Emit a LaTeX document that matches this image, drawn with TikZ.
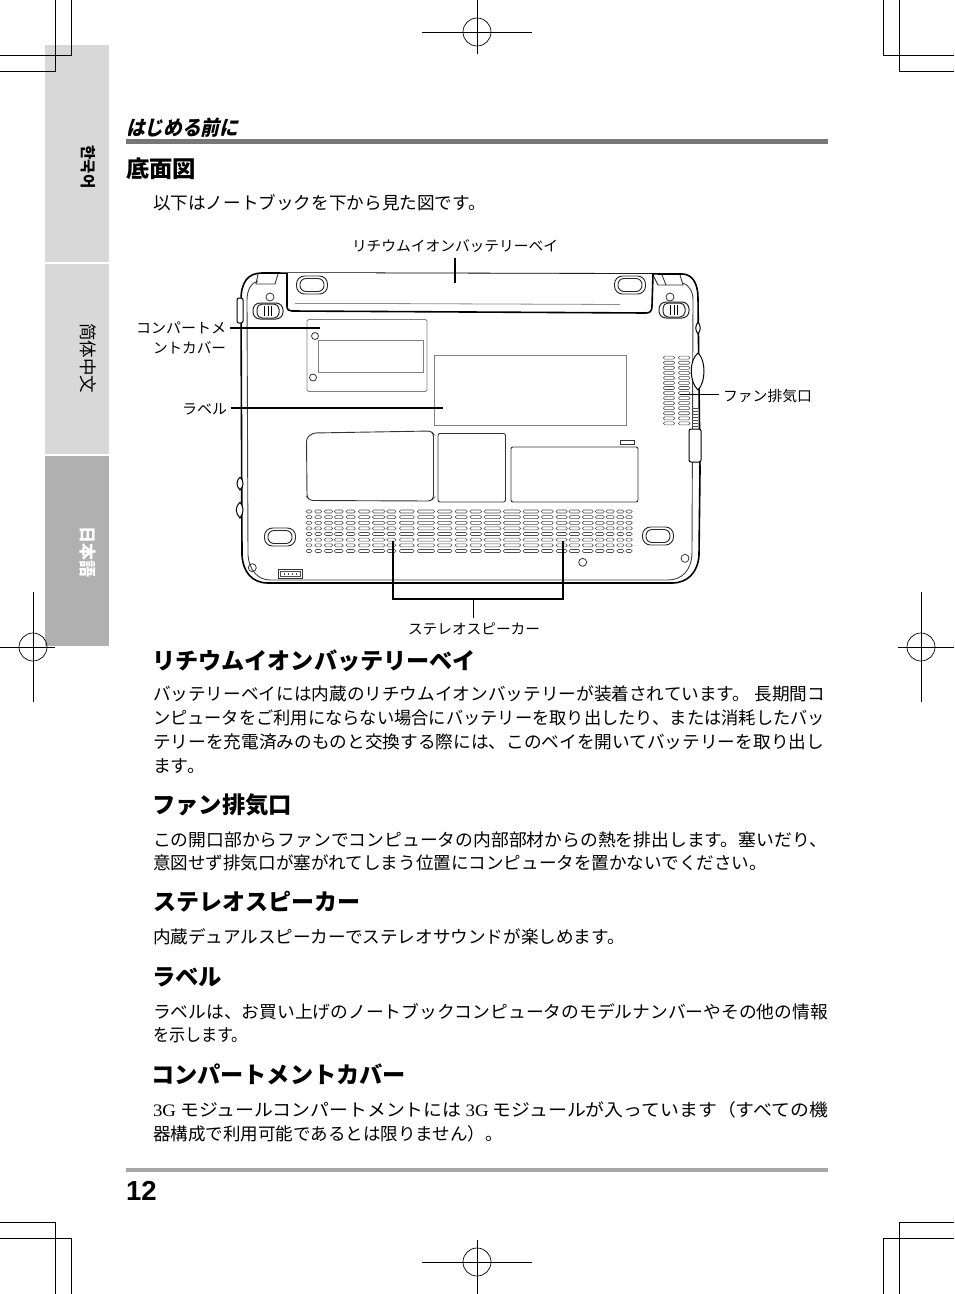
\documentclass[tikz,border=0pt]{standalone}
\usepackage{fontspec}
\usepackage{graphicx}
\setmainfont{Liberation Serif}
\newfontfamily\jpf{Noto Sans CJK JP}
\newfontfamily\jpsl[BoldFeatures={FakeSlant=0.25}]{Noto Sans CJK JP}
\newfontfamily\krf{Noto Sans CJK KR}
\newfontfamily\zhf{Noto Sans CJK SC}
\newfontfamily\numf{Liberation Sans}
\definecolor{tablight}{HTML}{D8D8D8}
\definecolor{tabdark}{HTML}{B0B0B0}
\definecolor{barA}{HTML}{777777}
\definecolor{barB}{HTML}{A8A8A8}
\definecolor{cvr}{HTML}{808080}
\tikzset{
  txt/.style={inner sep=0pt,outer sep=0pt,anchor=base west},
  crop/.style={line width=1pt,black},
  regm/.style={line width=0.8pt,black},
  outl/.style={line width=1.6pt,black,line join=round},
  sidep/.style={line width=1pt,black,fill=white},
  inl/.style={line width=0.9pt,black!75},
  thin part/.style={line width=0.9pt,black!80},
  cvrline/.style={line width=0.9pt,cvr},
  callout/.style={line width=1.7pt,black},
  vent/.style={line width=0.55pt,black!70,rounded corners=1.5pt},
}
% name, x, baseline y, width, size, font, text
\newcommand\fitt[7]{\node[txt] (#1) at (#2,#3) {\resizebox{#4pt}{\height}{\fontsize{#5}{#5}\selectfont#6#7}};}
\newcommand\bodyl[5]{\fitt{#1}{#2}{#3}{#4}{17.5}{\jpf}{#5}}
\newcommand\headl[5]{\fitt{#1}{#2}{#3}{#4}{23}{\jpf\bfseries}{#5}}
\newcommand\labl[5]{\fitt{#1}{#2}{#3}{#4}{14.5}{\jpf}{#5}}
\begin{document}
\begin{tikzpicture}[x=1pt,y=-1pt]
\useasboundingbox (0,0) rectangle (954,1294);
% tabs
\fill[tablight] (45,45) rectangle (109,262);
\fill[tablight] (45,264) rectangle (109,454);
\fill[tabdark] (45,456) rectangle (109,646);
\node[rotate=-90,inner sep=0pt,font={\fontsize{15.5}{16}\selectfont\krf\bfseries}] (tabk) at (88,167) {한국어};
\node[rotate=-90,inner sep=0pt,font={\fontsize{17.5}{18}\selectfont\zhf}] (tabc) at (88,358) {简体中文};
\node[rotate=-90,inner sep=0pt,text=white,font={\fontsize{17}{18}\selectfont\jpf\bfseries}] (tabj) at (88,552) {日本語};
% crop marks
\draw[crop] (55,0)--(55,71)--(0,71);
\draw[crop] (71,0)--(71,55)--(0,55);
\draw[crop] (883,0)--(883,55)--(954,55);
\draw[crop] (899,0)--(899,71)--(954,71);
\draw[crop] (55,1294)--(55,1222)--(0,1222);
\draw[crop] (71,1294)--(71,1238)--(0,1238);
\draw[crop] (883,1294)--(883,1238)--(954,1238);
\draw[crop] (899,1294)--(899,1222)--(954,1222);
% registration marks
\foreach \cx/\cy/\a/\b/\c/\d in {477/32/422/532/0/54, 477/1262/422/532/1240/1294, 33/647/0/55/592/702, 921/647/898/954/592/702}{
  \draw[regm] (\a,\cy)--(\b,\cy);
  \draw[regm] (\cx,\c)--(\cx,\d);
  \draw[line width=.7pt] (\cx,\cy) circle[radius=14];
}
% header
\node[txt] (hdr) at (126,135) {\resizebox{112pt}{\height}{\fontsize{20.5}{21}\selectfont\jpsl\bfseries はじめる前に}};
\fill[barA] (126,139) rectangle (828,144);
\headl{ttl}{126}{177}{70}{底面図}
\bodyl{intro}{153}{209}{333}{以下はノートブックを下から見た図です。}
% laptop outline
\draw[outl] (241,300) .. controls (241,282) and (248,273) .. (262,273) -- (682,274)
  .. controls (692,274) and (698,283) .. (698,298) -- (700,470) -- (699,555)
  .. controls (698,572) and (688,583) .. (672,583) -- (268,583)
  .. controls (252,583) and (243,572) .. (242,555) -- cycle;
\draw[inl] (258,281) .. controls (251,283) and (247,290) .. (247,300) -- (248,555)
  .. controls (249,570) and (258,580) .. (270,580) -- (668,580)
  .. controls (682,580) and (692,570) .. (692,552) -- (693,300)
  .. controls (693,292) and (690,286) .. (683,283);
% notches
\draw[thin part] (258,274)--(256,284)--(275,284)--(278,274);
\draw[thin part] (653,275)--(658,285)--(683,285)--(680,275);
\draw[thin part] (662,275)--(666,285);
% side parts
\draw[sidep,rounded corners=2pt] (237,298) rectangle (243,323);
\draw[sidep] (698,322) .. controls (695,326) and (695,330) .. (698,334) .. controls (701,330) and (701,326) .. (698,322);
\draw[sidep] (698,353) .. controls (689,360) and (689,382) .. (698,390) .. controls (706,382) and (706,360) .. (698,353);
\draw[sidep,rounded corners=2pt] (689,429) rectangle (701,462);
\draw[sidep] (240,477) .. controls (236,481) and (236,486) .. (240,490) .. controls (244,486) and (244,481) .. (240,477);
\draw[sidep] (240,502) .. controls (235,507) and (235,513) .. (240,518) .. controls (244,513) and (244,507) .. (240,502);
\foreach \yy in {408,411,414,417,420,423,426}{\draw[line width=.6pt,black!70] (692,\yy)--(698,\yy);}
% battery
\draw[outl,fill=white] (287,273) -- (287,306) .. controls (287,310) and (289,311) .. (292,311)
  -- (646,313) .. controls (650,313) and (652,311) .. (652,306) -- (653,274);
\draw[line width=.8pt,black!45] (295,303) -- (375,303);
\draw[line width=.8pt,black!45] (375,303.5) -- (620,304.5);
% latches and feet
\foreach \lx/\ly in {312/285, 630/285, 280/537, 658/536}{
  \draw[line width=.9pt,black!85,rounded corners=8pt] (\lx-15.5,\ly-9) rectangle (\lx+15.5,\ly+9);
  \draw[line width=.9pt,black!85,rounded corners=6pt] (\lx-12,\ly-6.5) rectangle (\lx+12,\ly+6.5);
}
% hinges
\foreach \sx/\sy/\ox/\oy in {268/311/270/297, 674/310/670/297}{
  \draw[line width=.8pt,black!80] (\ox,\oy) circle[radius=4];
  \draw[line width=1pt,black!85,rounded corners=7pt] (\sx-15,\sy-8) rectangle (\sx+15,\sy+8);
  \draw[line width=1pt,black!85,rounded corners=5pt] (\sx-11,\sy-7) rectangle (\sx+11,\sy+7);
  \foreach \dx in {-3.5,0,3.5}{\draw[line width=.8pt] (\sx+\dx,\sy-5)--(\sx+\dx,\sy+5);}
}
% compartment cover
\draw[cvrline,rounded corners=1.5pt] (307,319.5) rectangle (427,391.5);
\draw[cvrline,line width=1pt] (318.5,340.5) rectangle (423,372.5);
\draw[line width=.8pt,black!80] (315,336) circle[radius=3.5];
\draw[line width=.8pt,black!80] (313,377.5) circle[radius=3.5];
% label area
\draw[cvrline] (434,355.5) rectangle (626,425);
% lower compartments
\draw[thin part,rounded corners=3pt] (313,433) -- (431,431) -- (433.5,434) -- (433.5,498) -- (431,501) -- (310,500.5) -- (307,497) -- (306.5,438) -- cycle;
\draw[thin part,rounded corners=2pt] (438,433.5) rectangle (505.5,502);
\draw[thin part,rounded corners=2pt] (511,447) rectangle (638,502);
\draw[thin part] (620,440) rectangle (634,444);
% speaker vents
\foreach \vy in {511.5,517.1,522.8,528.4,534,539.7,545.3,551}{
  \foreach \va/\vb in {306/312,314.7/321.7,324.3/332.7,334.3/343.3,346/355.3,358.3/370,372.3/385,386.7/396,399.3/414.3,417.3/434.7,437.3/452,455/467.3,470/481.7,484/501,503.3/520.7,523/539,541.3/553.3,556/567.3,569/580,582.3/593.3,595.3/604.3,606/614.3,616.7/624,625.7/632.3}{
    \draw[vent] (\va,\vy-1.5) rectangle (\vb,\vy+1.5);
  }
}
% fan vents
\foreach \i in {0,...,13}{
  \pgfmathsetmacro\vy{357.7+5.05*\i}
  \draw[vent] (663.3,\vy-1.5) rectangle (674.7,\vy+1.5);
  \draw[vent] (678.3,\vy-1.5) rectangle (690,\vy+1.5);
}
% bottom details
\draw[line width=.9pt,black!80] (278,569) rectangle (302,578);
\draw[line width=.6pt,black!70] (280,571) rectangle (300,576);
\foreach \dx in {284,288,292,296}{\fill[black!70] (\dx,572.5) rectangle (\dx+1,574.5);}
\draw[line width=.8pt,black!80] (252.3,567.7) circle[radius=4];
\draw[line width=.8pt,black!80] (582.7,562.3) circle[radius=4];
\draw[line width=.8pt,black!80] (685,558.3) circle[radius=4];
% labels
\labl{lbatt}{352}{251}{206}{リチウムイオンバッテリーベイ}
\labl{lcov1}{136}{333}{90}{コンパートメ}
\labl{lcov2}{153}{353}{73}{ントカバー}
\labl{llab}{182}{414}{45}{ラベル}
\labl{lfan}{723}{401}{89}{ファン排気口}
\labl{lspk}{408}{634}{132}{ステレオスピーカー}
% callouts
\coordinate (cbA) at (455,258); \coordinate (cbB) at (455,283);
\coordinate (ccA) at (230,328); \coordinate (ccB) at (320,328);
\coordinate (clA) at (231,408); \coordinate (clB) at (443,408);
\coordinate (cfA) at (719,394.5); \coordinate (cfB) at (680,394.5);
\coordinate (csL) at (393,541); \coordinate (csR) at (563,541);
\coordinate (csJ) at (473,599); \coordinate (csT) at (473,618);
\draw[callout] (cbA)--(cbB);
\draw[callout] (ccA)--(ccB);
\draw[callout] (clA)--(clB);
\draw[callout] (cfA)--(cfB);
\draw[callout] (csL)|-(csJ)-|(csR);
\draw[line width=1pt] (csJ)--(csT);
% sections
\headl{h1}{152}{669}{324}{リチウムイオンバッテリーベイ}
\bodyl{p1a}{153}{700}{672}{バッテリーベイには内蔵のリチウムイオンバッテリーが装着されています。 長期間コ}
\bodyl{p1b}{153}{724}{672}{ンピュータをご利用にならない場合にバッテリーを取り出したり、または消耗したバッ}
\bodyl{p1c}{153}{748}{671}{テリーを充電済みのものと交換する際には、このベイを開いてバッテリーを取り出し}
\bodyl{p1d}{153}{772}{52}{ます。}
\headl{h2}{152}{813}{140}{ファン排気口}
\bodyl{p2a}{153}{846}{674}{この開口部からファンでコンピュータの内部部材からの熱を排出します。塞いだり、}
\bodyl{p2b}{153}{869}{614}{意図せず排気口が塞がれてしまう位置にコンピュータを置かないでください。}
\headl{h3}{153}{910}{207}{ステレオスピーカー}
\bodyl{p3a}{153}{943}{472}{内蔵デュアルスピーカーでステレオサウンドが楽しめます。}
\headl{h4}{152}{985}{70}{ラベル}
\bodyl{p4a}{153}{1018}{675}{ラベルは、お買い上げのノートブックコンピュータのモデルナンバーやその他の情報}
\bodyl{p4b}{153}{1041}{95}{を示します。}
\headl{h5}{151}{1083}{255}{コンパートメントカバー}
\bodyl{p5a}{153}{1116}{675}{{\rmfamily 3G} モジュールコンパートメントには {\rmfamily 3G} モジュールが入っています（すべての機}
\bodyl{p5b}{153}{1140}{350}{器構成で利用可能であるとは限りません）。}
% footer
\fill[barB] (126,1168) rectangle (828,1172);
\node[txt] (pg) at (126,1200) {\fontsize{27.5}{28}\selectfont\numf\bfseries 12};
\end{tikzpicture}
\end{document}
